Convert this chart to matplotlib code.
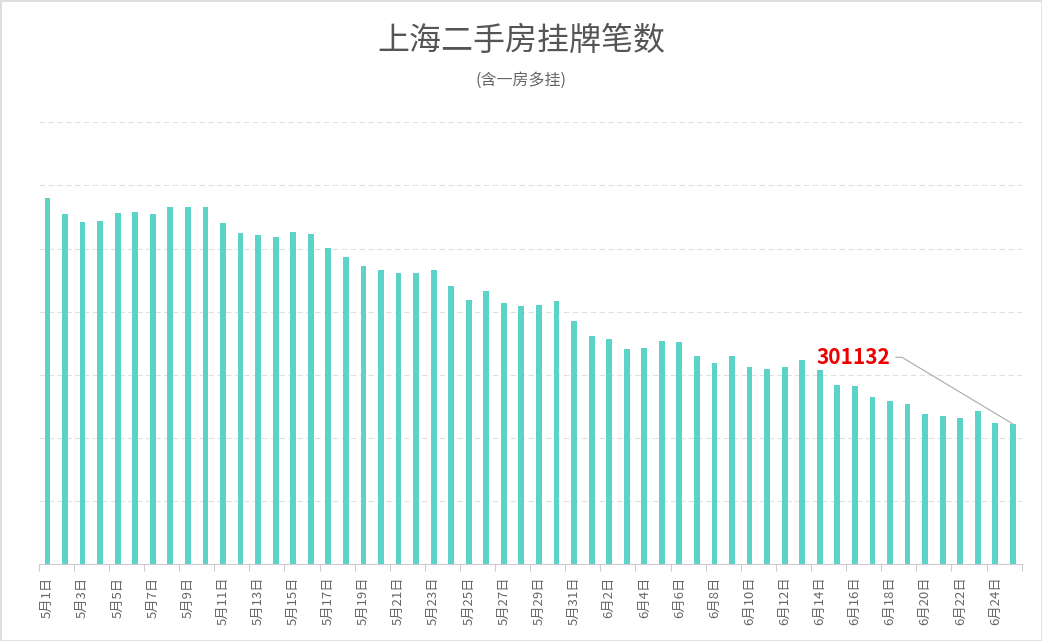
import matplotlib
matplotlib.use('Agg')
import matplotlib.pyplot as plt
from matplotlib.patches import Rectangle

plt.rcParams['font.family'] = ['Noto Sans CJK SC', 'DejaVu Sans']

# 日期（5月1日 - 6月25日）
days = ['5月%d日' % d for d in range(1, 32)] + ['6月%d日' % d for d in range(1, 26)]
# 挂牌笔数
counts = [479900, 467200, 460900, 461700, 468000, 468800, 467200, 472800, 472800, 472800,
          460100, 452100, 450600, 449000, 452900, 451300, 440500, 433100, 426000, 422800,
          420400, 420400, 422800, 410100, 399000, 406100, 396600, 394200, 395000, 398200,
          382300, 370400, 368000, 360100, 360900, 367200, 366400, 355300, 349000, 355300,
          346600, 345000, 346600, 352100, 344200, 332300, 331500, 322800, 319600, 317200,
          309300, 307700, 306100, 311700, 302100, 301132]
y_min, y_step, y_max = 190000, 50000, 540000

fig = plt.figure(figsize=(10.42, 6.41), dpi=100)
ax = fig.add_axes([0.0371, 0.1197, 0.9434, 0.6895])

x = list(range(len(days)))
ax.bar(x, counts, width=0.33, color='#5bd3c8', zorder=3)
ax.set_xlim(-0.5, len(days) - 0.5)
ax.set_ylim(y_min, y_max)

# 网格线
ax.set_yticks(range(y_min + y_step, y_max + 1, y_step))
ax.yaxis.grid(True, color='#e0e0e0', linestyle=(0, (5, 3)), linewidth=0.8, zorder=0)
ax.tick_params(axis='y', left=False, labelleft=False)

# x轴刻度与标签
ax.set_xticks([i - 0.5 for i in range(0, len(days) + 1, 2)])
ax.set_xticklabels([])
ax.tick_params(axis='x', which='major', length=5, color='#cccccc', width=0.8)
ax.set_xticks(x[::2], minor=True)
ax.set_xticklabels(days[::2], minor=True, rotation=90, fontsize=9.5, color='#666666',
                   ha='center', va='top')
ax.tick_params(axis='x', which='minor', length=0, pad=9)

for s in ['top', 'right', 'left']:
    ax.spines[s].set_visible(False)
ax.spines['bottom'].set_color('#cccccc')
ax.spines['bottom'].set_linewidth(0.8)

# 最后一天的标注
ax.annotate('%d' % counts[-1], xy=(x[-1], counts[-1]), xytext=(-115, 48),
            textcoords='offset points', ha='center', va='center',
            fontsize=15, fontweight='bold', color='#ee0000',
            arrowprops=dict(arrowstyle='-', color='#aaaaaa', lw=0.8, relpos=(1, 0.5),
                            shrinkA=2, shrinkB=0,
                            connectionstyle='angle,angleA=0,angleB=149,rad=0'))

fig.text(0.5, 0.936, '上海二手房挂牌笔数', ha='center', va='center', fontsize=23, color='#555555')
fig.text(0.5, 0.875, '(含一房多挂)', ha='center', va='center', fontsize=11.5, color='#666666')

fig.patches.append(Rectangle((0, 0), 1, 1, transform=fig.transFigure, fill=False,
                             edgecolor='#dddddd', linewidth=2))

fig.savefig('out.png', dpi=100)
